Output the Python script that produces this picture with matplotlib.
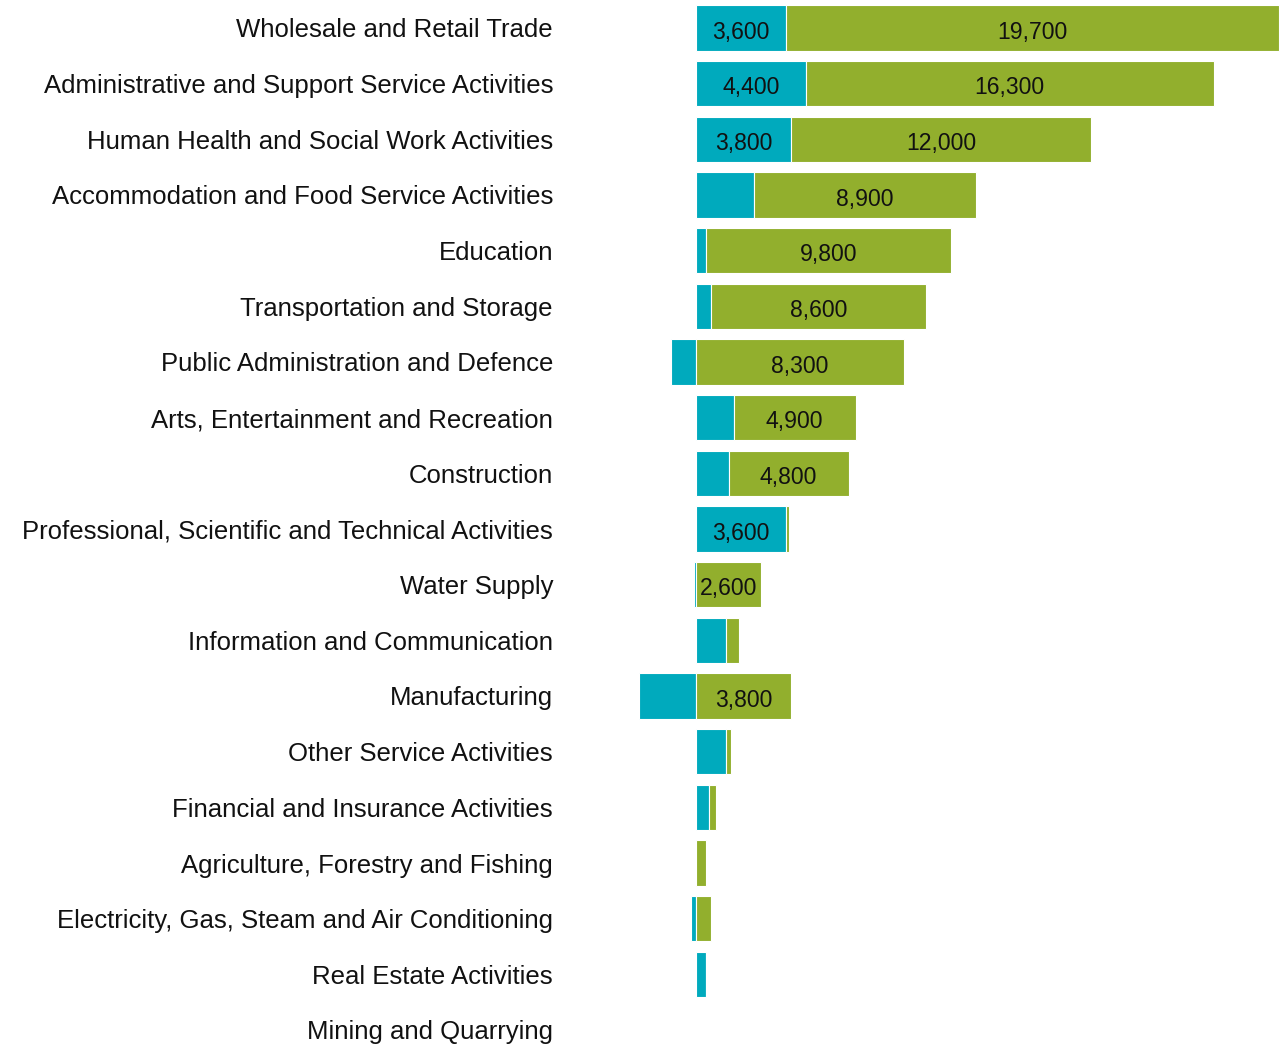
import matplotlib
matplotlib.use("Agg")
import matplotlib.pyplot as plt
import numpy as np

plt.rcParams['font.family'] = ['Liberation Sans', 'DejaVu Sans']

categories = [
    "Wholesale and Retail Trade",
    "Administrative and Support Service Activities",
    "Human Health and Social Work Activities",
    "Accommodation and Food Service Activities",
    "Education",
    "Transportation and Storage",
    "Public Administration and Defence",
    "Arts, Entertainment and Recreation",
    "Construction",
    "Professional, Scientific and Technical Activities",
    "Water Supply",
    "Information and Communication",
    "Manufacturing",
    "Other Service Activities",
    "Financial and Insurance Activities",
    "Agriculture, Forestry and Fishing",
    "Electricity, Gas, Steam and Air Conditioning",
    "Real Estate Activities",
    "Mining and Quarrying",
]
blue_values = [3600, 4400, 3800, 2300, 400, 600, -1000, 1500, 1300, 3600,
               -100, 1200, -2300, 1200, 500, 0, -200, 400, 0]
green_values = [19700, 16300, 12000, 8900, 9800, 8600, 8300, 4900, 4800, 100,
                2600, 500, 3800, 200, 300, 400, 600, 0, 0]

BLUE = "#00AABD"
GREEN = "#92AF2D"
LABEL_MIN = 2500

W, H = 1286, 1044
fig = plt.figure(figsize=(W / 100, H / 100), dpi=100)

zero_px = 696.0
px_per_unit = 0.025
ax_left_px = 600.0
ax_right_px = 1284.0
x0 = -(zero_px - ax_left_px) / px_per_unit
x1 = (ax_right_px - zero_px) / px_per_unit

row0_px = 28.0
step_px = (1030.0 - 28.0) / 18
ytop = -row0_px / step_px
ybot = 18 + (H - 1030.0) / step_px

ax = fig.add_axes([ax_left_px / W, 0, (ax_right_px - ax_left_px) / W, 1])
ax.set_xlim(x0, x1)
ax.set_ylim(ybot, ytop)

y = np.arange(len(categories))
blue = np.array(blue_values, dtype=float)
green = np.array(green_values, dtype=float)
green_left = np.where(blue > 0, blue, 0)

bh = 0.81
ax.barh(y, blue, height=bh, color=BLUE, edgecolor="white", linewidth=0.8)
ax.barh(y, green, left=green_left, height=bh, color=GREEN, edgecolor="white", linewidth=0.8)

for i in range(len(categories)):
    if abs(blue[i]) >= LABEL_MIN:
        ax.text(blue[i] / 2, y[i] + 0.03, f"{int(blue[i]):,}", ha="center", va="center_baseline",
                fontsize=16.6, color="#111111")
    if green[i] >= LABEL_MIN:
        ax.text(green_left[i] + green[i] / 2, y[i] + 0.03, f"{int(green[i]):,}", ha="center",
                va="center_baseline", fontsize=16.6, color="#111111")

ax.set_yticks(y)
ax.set_yticklabels(categories, fontsize=18.55, color="#111111")
ax.tick_params(axis="y", length=0, pad=(ax_left_px - 553) * 0.72)
ax.set_xticks([])
for s in ax.spines.values():
    s.set_visible(False)

fig.savefig("out.png", dpi=100)
